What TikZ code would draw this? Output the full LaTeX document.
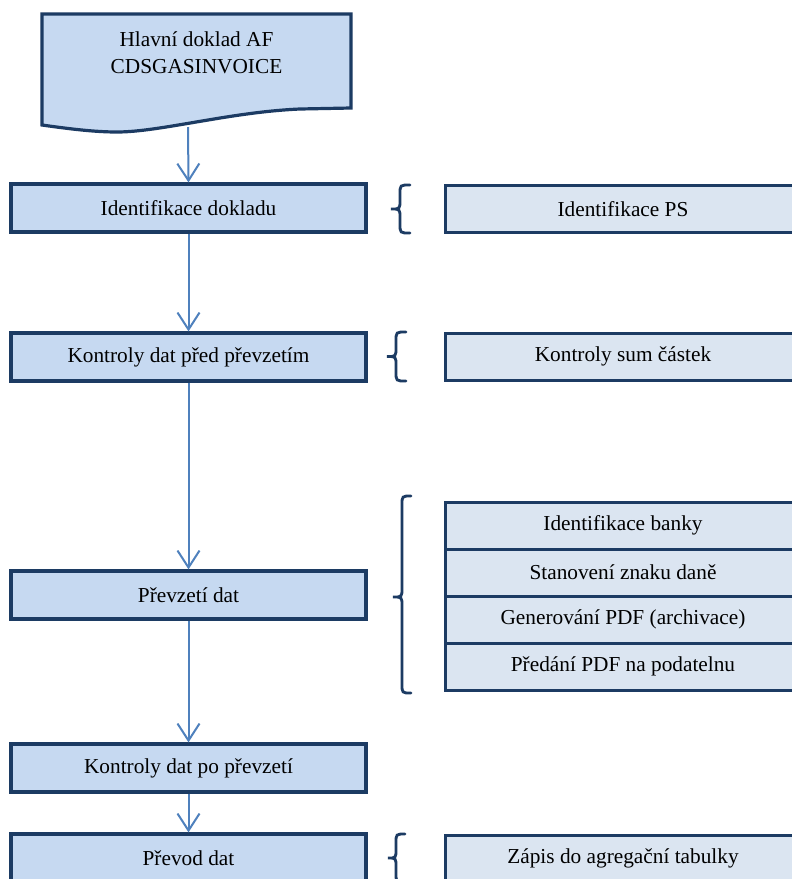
\documentclass[tikz,border=0pt]{standalone}
\usepackage{fontspec}
\setmainfont{Liberation Serif}
\usetikzlibrary{arrows.meta}
\definecolor{navy}{HTML}{1C3B63}
\definecolor{mainfill}{HTML}{C6D9F1}
\definecolor{sidefill}{HTML}{DBE5F1}
\definecolor{arrowblue}{HTML}{4F81BD}
\begin{document}
\begin{tikzpicture}[x=1pt,y=-1pt,
  txt/.style={font=\fontsize{21.3}{27}\selectfont, text=black},
  mainbox/.style={txt, draw=navy, line width=3.2pt, fill=mainfill, minimum width=355pt, minimum height=48pt, inner sep=0pt},
  sidebox/.style={txt, draw=navy, line width=3pt, fill=sidefill, minimum width=356pt, minimum height=47pt, inner sep=0pt},
  flow/.style={draw=arrowblue, line width=2pt, -{Straight Barb[length=17pt,width=22pt]}},
  bracepath/.style={draw=navy, line width=2.8pt, line cap=round}]
\useasboundingbox (0,0) rectangle (792,879);
\fill[white] (0,0) rectangle (792,879);
% document shape
\draw[draw=navy, line width=3.2pt, fill=mainfill, line join=miter]
  (42,14) -- (351,14) -- (351,108) -- (300,109)
  .. controls (230,112) and (160,132) .. (117,132)
  .. controls (95,132) and (70,129) .. (42,125) -- cycle;
\node[txt, align=center] (doc) at (196.5,53) {Hlavní doklad AF\\CDSGASINVOICE};
\coordinate (docbot) at (188,127);
% main boxes
\node[mainbox] (b1) at (188.5,208) {Identifikace dokladu};
\node[mainbox] (b2) at (188.5,357) {Kontroly dat před převzetím};
\node[mainbox] (b3) at (188.5,595) {Převzetí dat};
\node[mainbox] (b4) at (188.5,768) {Kontroly dat po převzetí};
\node[mainbox] (b5) at (188.5,858) {Převod dat};
% side boxes
\node[sidebox] (s1) at (623,209) {Identifikace PS};
\node[sidebox] (s2) at (623,356.5) {Kontroly sum částek};
\node[sidebox] (s3) at (623,525.5) {Identifikace banky};
\node[sidebox] (s4) at (623,572.5) {Stanovení znaku daně};
\node[sidebox] (s5) at (623,619.5) {Generování PDF (archivace)};
\node[sidebox] (s6) at (623,666.5) {Předání PDF na podatelnu};
\node[sidebox] (s7) at (623,858.5) {Zápis do agregační tabulky};
% arrows
\draw[flow] (docbot) -- (b1.north);
\draw[flow] (b1.south) -- (b2.north);
\draw[flow] (b2.south) -- (b3.north);
\draw[flow] (b3.south) -- (b4.north);
\draw[flow] (b4.south) -- (b5.north);
% braces
\draw[bracepath] (410,185) .. controls (400,185) .. (400,194) -- (400,200)
  .. controls (400,209) .. (391,209) .. controls (400,209) .. (400,218) -- (400,224)
  .. controls (400,233) .. (410,233);
\draw[bracepath] (406,332) .. controls (396,332) .. (396,341) -- (396,347.5)
  .. controls (396,356.5) .. (387,356.5) .. controls (396,356.5) .. (396,365.5) -- (396,372)
  .. controls (396,381) .. (406,381);
\draw[bracepath] (411,496) .. controls (402,496) .. (402,505) -- (402,588)
  .. controls (402,597) .. (393,597) .. controls (402,597) .. (402,606) -- (402,684)
  .. controls (402,693) .. (411,693);
\draw[bracepath] (405,834) .. controls (396,834) .. (396,843) -- (396,849)
  .. controls (396,858) .. (388,858) .. controls (396,858) .. (396,867) -- (396,873)
  .. controls (396,882) .. (405,882);
\end{tikzpicture}
\end{document}
